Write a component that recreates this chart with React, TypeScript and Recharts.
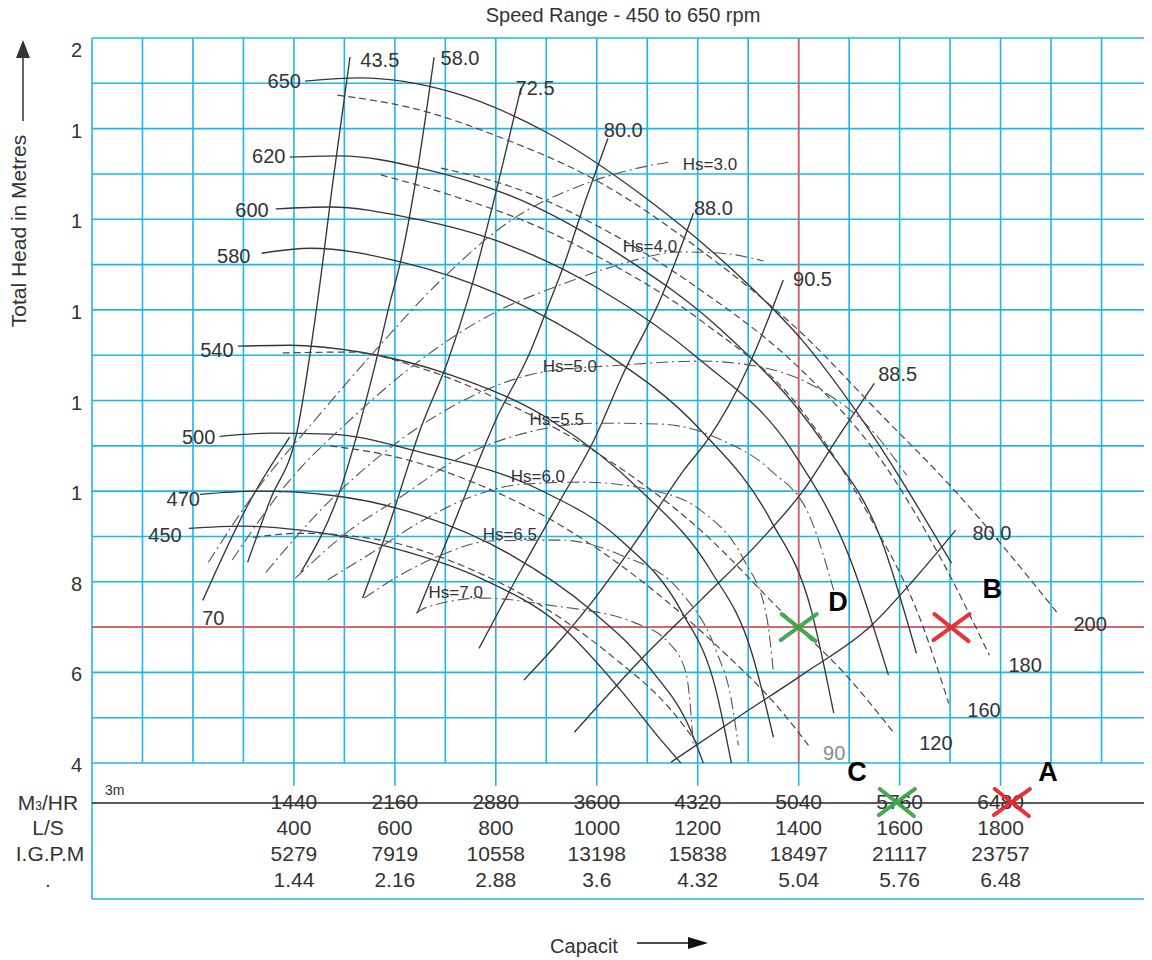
import React from "react";
import {
  ComposedChart,
  Line,
  XAxis,
  YAxis,
  ReferenceLine,
  ReferenceDot,
} from "recharts";

type Pt = [number, number];

// capacity in m3/hr, total head in metres

// head-capacity curves per speed (rpm)
const head650: Pt[] = [[1520, 19.05], [1910, 19.12], [2560, 18.81], [3240, 17.92], [3940, 16.49], [4700, 14.5], [5060, 13.35], [5460, 11.72], [6130, 8.41]];
const head620: Pt[] = [[1410, 17.37], [1770, 17.4], [2340, 17.13], [3060, 16.42], [3770, 15.21], [4490, 13.55], [5200, 11.13], [5630, 8.92], [5880, 6.42]];
const head600: Pt[] = [[1310, 16.23], [1700, 16.27], [2270, 16.03], [2910, 15.5], [3630, 14.44], [4340, 12.89], [4990, 10.91], [5410, 8.48], [5680, 5.94]];
const head580: Pt[] = [[1210, 15.25], [1560, 15.36], [2200, 15.06], [2910, 14.33], [3630, 13.11], [4340, 11.35], [4840, 9.36], [5130, 7.37], [5290, 5.1]];
const head540: Pt[] = [[1040, 13.2], [1410, 13.22], [1910, 13.07], [2560, 12.56], [3270, 11.57], [3910, 10.02], [4410, 8.26], [4700, 6.49], [4860, 4.57]];
const head500: Pt[] = [[910, 11.21], [1270, 11.28], [1700, 11.26], [2340, 10.86], [3200, 10.02], [3770, 8.92], [4200, 7.37], [4450, 5.61], [4560, 4.0]];
const head470: Pt[] = [[770, 9.93], [1200, 10.0], [1700, 9.91], [2340, 9.47], [2990, 8.59], [3560, 7.37], [3990, 6.05], [4270, 4.72], [4360, 4.0]];
const head450: Pt[] = [[690, 9.18], [1060, 9.23], [1490, 9.14], [2130, 8.76], [2770, 8.08], [3340, 7.04], [3770, 5.61], [4060, 4.5], [4200, 4.0]];

// dashed curves (end labels 200, 180, 160, 120, 90)
const dash200: Pt[] = [[1750, 18.74], [2340, 18.41], [2910, 17.81], [3630, 16.8], [4340, 15.32], [5060, 13.49], [5630, 11.68], [6130, 10.09], [6490, 8.81], [6880, 7.33]];
const dash180: Pt[] = [[2490, 17.13], [3060, 16.64], [3630, 15.81], [4340, 14.44], [5060, 12.67], [5630, 10.68], [6060, 8.48], [6400, 6.38]];
const dash160: Pt[] = [[2060, 16.98], [2560, 16.53], [3200, 15.81], [3630, 15.14], [4340, 13.77], [5060, 11.79], [5560, 9.36], [5910, 7.15], [6110, 5.32]];
const dash120: Pt[] = [[1360, 13.05], [1840, 13.07], [2340, 12.72], [2910, 12.01], [3630, 10.79], [4340, 9.14], [4910, 7.37], [5410, 5.83], [5720, 4.66]];
const dash90: Pt[] = [[1700, 11.0], [2200, 10.73], [2770, 10.13], [3340, 9.25], [3910, 8.04], [4490, 6.49], [4910, 5.17], [5110, 4.39]];
const dashLow: Pt[] = [[1150, 8.98], [1490, 9.07], [2060, 8.92], [2630, 8.37], [3200, 7.48], [3700, 6.38], [4130, 5.17], [4340, 4.33]];

// efficiency lines (%)
const eff435: Pt[] = [[1110, 8.43], [1270, 9.8], [1460, 11.28], [1610, 14.22], [1720, 16.87], [1840, 19.58]];
const eff580: Pt[] = [[1490, 8.21], [1770, 10.02], [2010, 12.67], [2130, 14.22], [2200, 15.06], [2310, 16.87], [2440, 19.58]];
const eff725: Pt[] = [[1930, 7.64], [2130, 9.36], [2340, 11.35], [2540, 12.89], [2680, 14.22], [2890, 16.71], [3060, 18.9]];
const eff800: Pt[] = [[2320, 7.31], [2590, 9.36], [2880, 11.57], [3130, 13.11], [3270, 14.22], [3360, 14.94], [3520, 16.42], [3680, 17.79]];
const eff880: Pt[] = [[2760, 6.53], [3060, 8.26], [3340, 9.8], [3580, 11.13], [3790, 12.6], [4060, 14.28], [4290, 16.14]];
const eff905: Pt[] = [[3080, 5.83], [3340, 6.71], [3560, 7.53], [3910, 9.03], [4220, 10.46], [4390, 11.13], [4680, 12.74], [4840, 13.93], [4930, 14.66]];
const eff885: Pt[] = [[3440, 4.68], [3910, 6.27], [4340, 7.59], [4770, 8.92], [5060, 9.96], [5340, 11.28], [5580, 12.38]];
const eff800r: Pt[] = [[4130, 4.02], [4630, 5.06], [5080, 5.98], [5560, 7.04], [5860, 8.04], [6160, 9.14]];
const eff700: Pt[] = [[790, 7.59], [1130, 9.8], [1410, 11.19]];

// suction head (Hs) curves
const hs30: Pt[] = [[830, 8.43], [1200, 10.13], [1560, 11.46], [1990, 13.0], [2490, 14.66], [2990, 15.98], [3490, 16.75], [3840, 17.09], [4110, 17.26]];
const hs40: Pt[] = [[1000, 8.48], [1410, 10.24], [1840, 11.57], [2340, 12.89], [2840, 13.89], [3340, 14.55], [3750, 14.99], [4200, 15.28], [4490, 15.25], [4790, 15.08]];
const hs50: Pt[] = [[1240, 8.21], [1630, 9.58], [2200, 11.13], [2700, 12.08], [3220, 12.63], [3770, 12.78], [4340, 12.87], [4770, 12.74], [5200, 12.23], [5560, 11.35], [5810, 10.35]];
const hs55: Pt[] = [[1450, 8.08], [1840, 9.14], [2200, 9.87], [2630, 10.75], [3110, 11.3], [3630, 11.5], [4060, 11.48], [4490, 11.13], [4840, 10.46], [5130, 9.36], [5290, 7.81]];
const hs60: Pt[] = [[1680, 8.04], [1990, 8.63], [2340, 9.32], [2700, 9.87], [3060, 10.15], [3490, 10.2], [3990, 10.02], [4340, 9.58], [4650, 8.48], [4810, 7.26], [4860, 6.0]];
const hs65: Pt[] = [[1940, 7.64], [2200, 8.15], [2490, 8.59], [2840, 8.9], [3340, 8.92], [3770, 8.59], [4200, 7.77], [4450, 6.49], [4560, 5.39], [4610, 4.39]];
const hs70: Pt[] = [[2310, 7.31], [2390, 7.44], [2790, 7.64], [3270, 7.48], [3860, 7.11], [4130, 6.6], [4240, 5.94], [4290, 4.35]];

// curve labels: [text, capacity, head]
const speedLabels: [string, number, number][] = [["650", 1490, 19.05], ["620", 1380, 17.4], ["600", 1260, 16.2], ["580", 1130, 15.19], ["540", 1010, 13.11], ["500", 880, 11.19], ["470", 770, 9.82], ["450", 640, 9.03]];
const effLabels: [string, number, number][] = [["43.5", 1914, 19.51], ["58.0", 2486, 19.56], ["72.5", 3021, 18.9], ["80.0", 3650, 17.97], ["88.0", 4293, 16.25], ["90.5", 5000, 14.68], ["88.5", 5607, 12.58], ["80.0", 6279, 9.07], ["70", 786, 7.2]];
const dashLabels: [string, number, number][] = [["200", 7000, 7.06], ["180", 6536, 6.16], ["160", 6243, 5.16], ["120", 5900, 4.44], ["90", 5214, 4.22]];
const hsLabels: [string, number, number][] = [["Hs=3.0", 4214, 17.2], ["Hs=4.0", 3786, 15.39], ["Hs=5.0", 3214, 12.76], ["Hs=5.5", 3121, 11.59], ["Hs=6.0", 2986, 10.33], ["Hs=6.5", 2786, 9.05], ["Hs=7.0", 2400, 7.77]];

// capacity table under the chart
const m3hr = [1440, 2160, 2880, 3600, 4320, 5040, 5760, 6480];
const litresSec = ["400", "600", "800", "1000", "1200", "1400", "1600", "1800"];
const igpm = ["5279", "7919", "10558", "13198", "15838", "18497", "21117", "23757"];
const thousands = ["1.44", "2.16", "2.88", "3.6", "4.32", "5.04", "5.76", "6.48"];

const headTicks = [4, 6, 8, 10, 12, 14, 16, 18, 20];
const headTickText = ["4", "6", "8", "1", "1", "1", "1", "1", "2"];

// duty point markers: [letter, capacity, head, letterCapacity, letterHead]
const markers: [string, number, number, number, number][] = [
  ["D", 5040, 7.0, 5321, 7.56],
  ["B", 6130, 7.0, 6420, 7.84],
  ["C", 5740, 3.14, 5456, 3.8],
  ["A", 6560, 3.14, 6819, 3.8],
];
const markerColor: Record<string, string> = { D: "#3aa64a", C: "#3aa64a", B: "#e8282b", A: "#e8282b" };

const W = 1144;
const H = 952;
const FONT = "'Liberation Sans', Arial, Helvetica, sans-serif";
const INK = "#333";
const GRID = "#1fb6ea";
const RED = "#e8585b";

const rows = (pts: Pt[]) => pts.map(([q, h]) => ({ q, h }));

const solidCurves = [head650, head620, head600, head580, head540, head500, head470, head450, eff435, eff580, eff725, eff800, eff880, eff905, eff885, eff800r, eff700];
const dashedCurves = [dash200, dash180, dash160, dash120, dash90, dashLow];
const dashDotCurves = [hs30, hs40, hs50, hs55, hs60, hs65, hs70];

const gridQ = Array.from({ length: 21 }, (_, i) => i * 360);
const gridH = Array.from({ length: 17 }, (_, i) => 4 + i);

type TagOpts = { size?: number; anchor?: "start" | "middle" | "end"; color?: string; weight?: number | string };

const tag = (key: string, q: number, h: number, text: string, o: TagOpts = {}) => (
  <ReferenceDot
    key={key}
    x={q}
    y={h}
    r={1}
    shape={(p: any) => (
      <text
        x={p.cx}
        y={p.cy}
        textAnchor={o.anchor ?? "middle"}
        dominantBaseline="central"
        fontFamily={FONT}
        fontSize={o.size ?? 19}
        fontWeight={o.weight ?? "normal"}
        fill={o.color ?? INK}
      >
        {text}
      </text>
    )}
  />
);

const cross = (color: string) => (p: any) => (
  <g stroke={color} strokeWidth={4} strokeLinecap="round" opacity={0.95}>
    <line x1={p.cx - 18} y1={p.cy + 13} x2={p.cx + 18} y2={p.cy - 13} />
    <line x1={p.cx - 17} y1={p.cy - 13} x2={p.cx + 17} y2={p.cy + 14} />
  </g>
);

const YTick = (p: any) => {
  const i = headTicks.indexOf(p.payload.value);
  return (
    <text x={74} y={p.y + (p.payload.value === 20 ? 12 : 2)} textAnchor="end" dominantBaseline="central" fontFamily={FONT} fontSize={20} fill={INK}>
      {headTickText[i]}
    </text>
  );
};

export default function App() {
  return (
    <div style={{ position: "relative", width: W, height: H }}>
      <ComposedChart width={W} height={H} margin={{ top: 30, right: 0, bottom: 61, left: 0 }}>
        <XAxis type="number" dataKey="q" domain={[0, 7560]} allowDataOverflow hide />
        <YAxis
          type="number"
          dataKey="h"
          domain={[1, 20]}
          allowDataOverflow
          ticks={headTicks}
          interval={0}
          width={84}
          axisLine={false}
          tickLine={false}
          tick={YTick}
        />

        {gridQ.map((q) => (
          <ReferenceLine key={`v${q}`} segment={[{ x: q, y: 4 }, { x: q, y: 20 }]} stroke={GRID} strokeWidth={1.6} />
        ))}
        {gridH.map((h) => (
          <ReferenceLine key={`h${h}`} segment={[{ x: 0, y: h }, { x: 7560, y: h }]} stroke={GRID} strokeWidth={1.6} />
        ))}
        {m3hr.map((q) => (
          <ReferenceLine key={`t${q}`} segment={[{ x: q, y: 3.5 }, { x: q, y: 4 }]} stroke={GRID} strokeWidth={1.6} />
        ))}
        <ReferenceLine segment={[{ x: 0, y: 1 }, { x: 0, y: 4 }]} stroke={GRID} strokeWidth={1.6} />
        <ReferenceLine segment={[{ x: 0, y: 1 }, { x: 7560, y: 1 }]} stroke={GRID} strokeWidth={1.6} />

        <ReferenceLine segment={[{ x: 0, y: 7 }, { x: 7560, y: 7 }]} stroke={RED} strokeWidth={1.6} />
        <ReferenceLine segment={[{ x: 5040, y: 4 }, { x: 5040, y: 20 }]} stroke={RED} strokeWidth={1.6} />
        <ReferenceLine segment={[{ x: 0, y: 3.12 }, { x: 7560, y: 3.12 }]} stroke="#222" strokeWidth={1.4} />

        {solidCurves.map((c, i) => (
          <Line key={`s${i}`} data={rows(c)} dataKey="h" type="monotone" stroke="#363636" strokeWidth={1.35} dot={false} activeDot={false} isAnimationActive={false} legendType="none" />
        ))}
        {dashedCurves.map((c, i) => (
          <Line key={`d${i}`} data={rows(c)} dataKey="h" type="monotone" stroke="#474747" strokeWidth={1.2} strokeDasharray="7 4" dot={false} activeDot={false} isAnimationActive={false} legendType="none" />
        ))}
        {dashDotCurves.map((c, i) => (
          <Line key={`h${i}`} data={rows(c)} dataKey="h" type="monotone" stroke="#555" strokeWidth={1.1} strokeDasharray="12 4 2 4" dot={false} activeDot={false} isAnimationActive={false} legendType="none" />
        ))}

        {speedLabels.map(([t, q, h]) => tag(`sl${t}`, q, h, t, { anchor: "end", size: 20 }))}
        {effLabels.map(([t, q, h], i) => tag(`el${i}`, q, h, t, { anchor: "start", size: 20 }))}
        {dashLabels.map(([t, q, h]) => tag(`dl${t}`, q, h, t, { anchor: "start", size: 20, color: t === "90" ? "#8a8a8a" : INK }))}
        {hsLabels.map(([t, q, h]) => tag(`hl${t}`, q, h, t, { anchor: "start", size: 17 }))}

        {m3hr.map((q) => tag(`r1${q}`, q, 3.16, String(q), { size: 21 }))}
        {m3hr.map((q, i) => tag(`r2${q}`, q, 2.58, litresSec[i], { size: 21 }))}
        {m3hr.map((q, i) => tag(`r3${q}`, q, 2.01, igpm[i], { size: 21 }))}
        {m3hr.map((q, i) => tag(`r4${q}`, q, 1.43, thousands[i], { size: 21 }))}

        {markers.map(([k, q, h]) => (
          <ReferenceDot key={`m${k}`} x={q} y={h} r={1} shape={cross(markerColor[k])} />
        ))}
        {markers.map(([k, , , lq, lh]) => tag(`ml${k}`, lq, lh, k, { size: 27, weight: "bold", color: "#000" }))}
      </ComposedChart>

      {/* titles and arrows, drawn in page coordinates */}
      <svg width={1152} height={960} style={{ position: "absolute", left: -8, top: -8, pointerEvents: "none" }} fontFamily={FONT}>
        <text x={623} y={22} textAnchor="middle" fontSize={20} fill={INK}>
          Speed Range - 450 to 650 rpm
        </text>

        <text x={18} y={231} transform="rotate(-90 18 231)" textAnchor="middle" dominantBaseline="central" fontSize={21} fill={INK}>
          Total Head in Metres
        </text>
        <line x1={23} y1={121} x2={23} y2={54} stroke={INK} strokeWidth={1.5} />
        <polygon points="23,40 16,58 30,58" fill={INK} />

        <text x={584} y={953} textAnchor="middle" fontSize={20} fill={INK}>
          Capacit
        </text>
        <line x1={637} y1={943} x2={696} y2={943} stroke="#111" strokeWidth={1.5} />
        <polygon points="708,943 688,937 688,949" fill="#111" />

        <text x={48} y={802} textAnchor="middle" dominantBaseline="central" fontSize={21} fill={INK}>
          M<tspan fontSize={12} dy={4}>3</tspan>
          <tspan dy={-4}>/HR</tspan>
        </text>
        <text x={48} y={827} textAnchor="middle" dominantBaseline="central" fontSize={21} fill={INK}>
          L/S
        </text>
        <text x={50} y={853} textAnchor="middle" dominantBaseline="central" fontSize={21} fill={INK}>
          I.G.P.M
        </text>
        <text x={48} y={879} textAnchor="middle" dominantBaseline="central" fontSize={21} fill={INK}>
          .
        </text>
        <text x={105} y={790} dominantBaseline="central" fontSize={14} fill={INK}>
          3m
        </text>
      </svg>
    </div>
  );
}
